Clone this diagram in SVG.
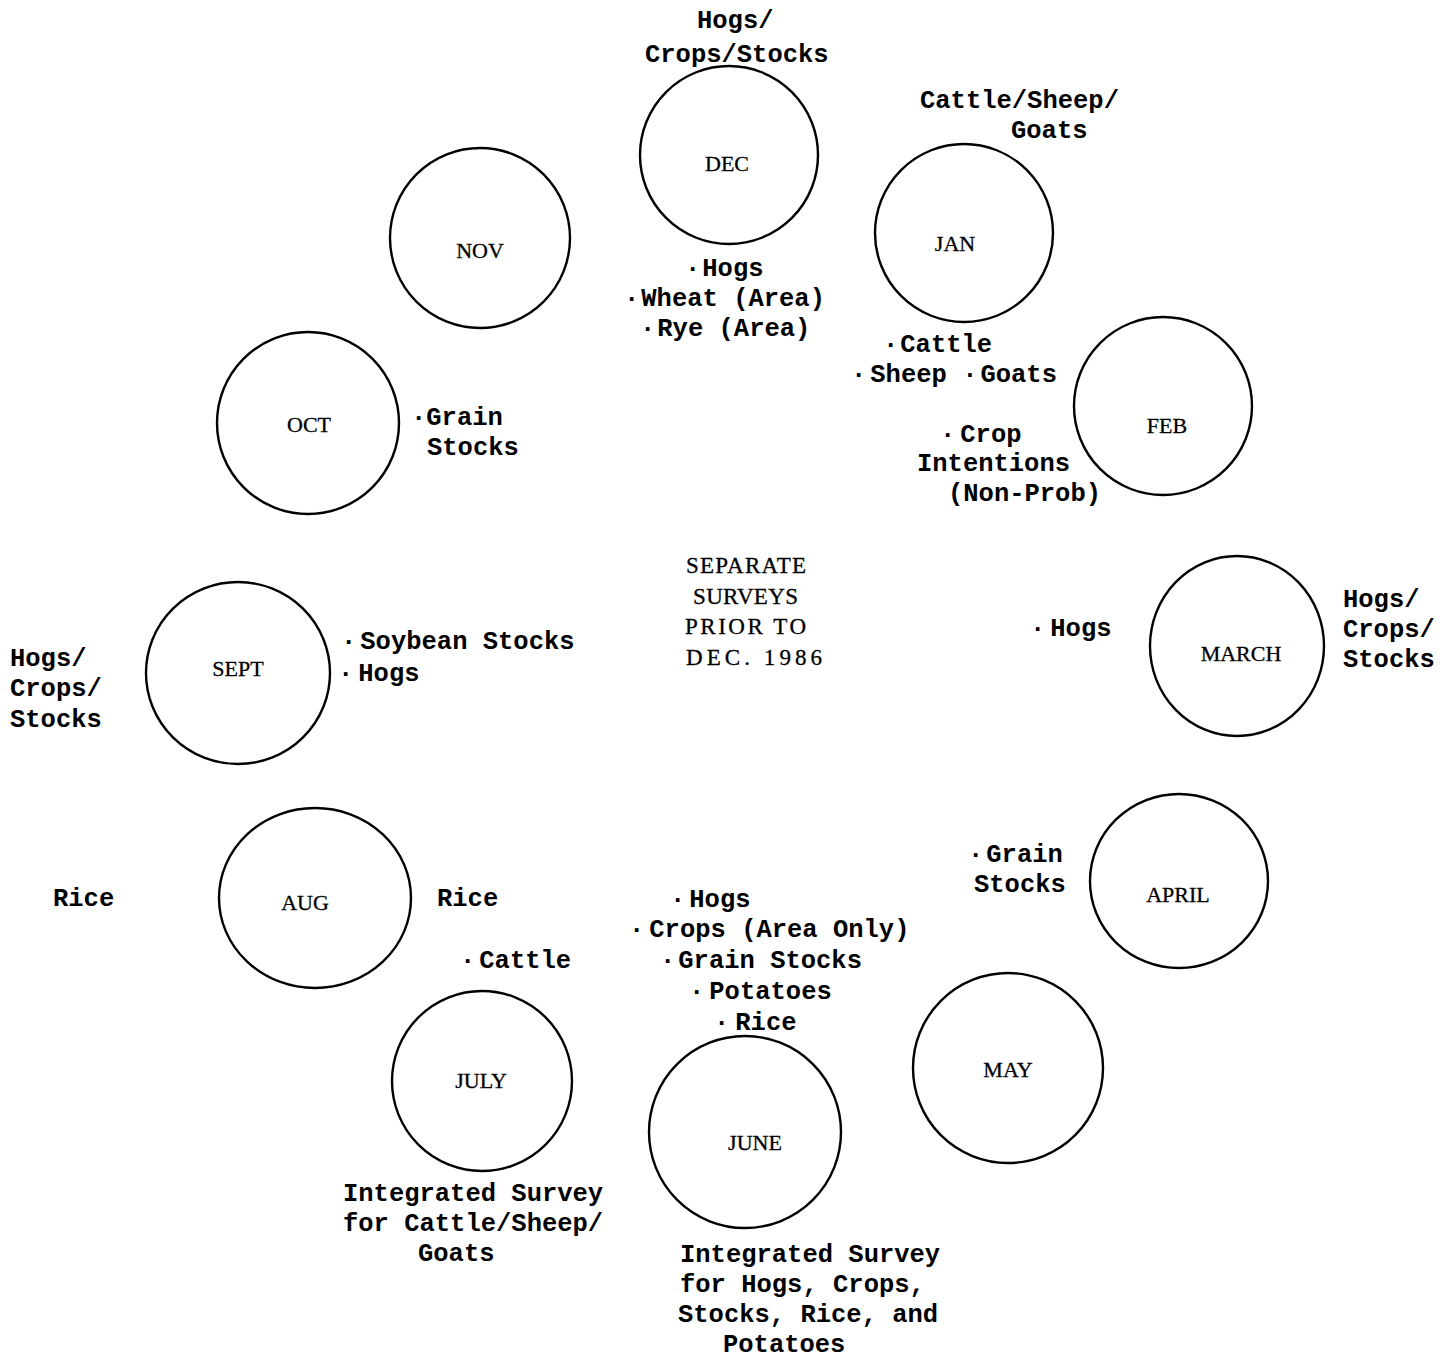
<svg xmlns="http://www.w3.org/2000/svg" width="1453" height="1358" viewBox="0 0 1453 1358">
<style>
.c{fill:none;stroke:#000;stroke-width:2.4}
.t{font-family:"Liberation Mono","DejaVu Sans Mono",monospace;font-size:25.5px;font-weight:bold;fill:#000}
.m{font-family:"Liberation Serif","DejaVu Serif",serif;font-size:22px;fill:#000;text-anchor:middle;stroke:#000;stroke-width:0.3}
.s{font-family:"Liberation Serif","DejaVu Serif",serif;font-size:23px;fill:#000;stroke:#000;stroke-width:0.3}
</style>
<rect width="1453" height="1358" fill="#fff"/>
<g id="connectors"/>
<g id="dec">
<circle class="c" cx="729" cy="155" r="89"/>
<text class="m" x="727" y="171">DEC</text>
<text class="t" x="697" y="28">Hogs/</text>
<text class="t" x="645" y="62">Crops/Stocks</text>
<text class="t" x="685" y="276">·<tspan dx="2">Hogs</tspan></text>
<text class="t" x="624" y="306">·<tspan dx="2">Wheat (Area)</tspan></text>
<text class="t" x="640" y="336">·<tspan dx="2">Rye (Area)</tspan></text>
</g>
<g id="jan">
<circle class="c" cx="964" cy="233" r="89"/>
<text class="m" x="955" y="251">JAN</text>
<text class="t" x="920" y="108">Cattle/Sheep/</text>
<text class="t" x="1011" y="138">Goats</text>
<text class="t" x="883" y="352">·<tspan dx="2">Cattle</tspan></text>
<text class="t" x="851" y="382">·<tspan dx="4">Sheep</tspan><tspan dx="0"> ·</tspan><tspan dx="3">Goats</tspan></text>
</g>
<g id="feb">
<circle class="c" cx="1163" cy="406" r="89"/>
<text class="m" x="1167" y="433">FEB</text>
<text class="t" x="940" y="442">·<tspan dx="5">Crop</tspan></text>
<text class="t" x="917" y="471">Intentions</text>
<text class="t" x="948" y="501">(Non-Prob)</text>
</g>
<g id="nov">
<circle class="c" cx="480" cy="238" r="90"/>
<text class="m" x="480" y="258">NOV</text>
</g>
<g id="oct">
<circle class="c" cx="308" cy="423" r="91"/>
<text class="m" x="309" y="432">OCT</text>
<text class="t" x="411" y="425">·Grain</text>
<text class="t" x="427" y="455">Stocks</text>
</g>
<g id="center">
<text class="s" x="686" y="573" textLength="120" lengthAdjust="spacing">SEPARATE</text>
<text class="s" x="693" y="604" textLength="105" lengthAdjust="spacing">SURVEYS</text>
<text class="s" x="685" y="634" textLength="121" lengthAdjust="spacing">PRIOR TO</text>
<text class="s" x="686" y="665" textLength="136" lengthAdjust="spacing">DEC. 1986</text>
</g>
<g id="sept">
<ellipse class="c" cx="238" cy="673" rx="92" ry="91"/>
<text class="m" x="238" y="676">SEPT</text>
<text class="t" x="10" y="666">Hogs/</text>
<text class="t" x="10" y="696">Crops/</text>
<text class="t" x="10" y="727">Stocks</text>
<text class="t" x="341" y="649">·<tspan dx="4">Soybean Stocks</tspan></text>
<text class="t" x="338" y="681">·<tspan dx="5">Hogs</tspan></text>
</g>
<g id="march">
<ellipse class="c" cx="1237" cy="646" rx="87" ry="90"/>
<text class="m" x="1241" y="661">MARCH</text>
<text class="t" x="1030" y="636">·<tspan dx="5">Hogs</tspan></text>
<text class="t" x="1343" y="607">Hogs/</text>
<text class="t" x="1343" y="637">Crops/</text>
<text class="t" x="1343" y="667">Stocks</text>
</g>
<g id="aug">
<ellipse class="c" cx="315" cy="898" rx="96" ry="90"/>
<text class="m" x="305" y="910">AUG</text>
<text class="t" x="53" y="906">Rice</text>
<text class="t" x="437" y="906">Rice</text>
</g>
<g id="april">
<ellipse class="c" cx="1179" cy="881" rx="89" ry="87"/>
<text class="m" x="1178" y="902">APRIL</text>
<text class="t" x="968" y="862">·<tspan dx="3">Grain</tspan></text>
<text class="t" x="974" y="892">Stocks</text>
</g>
<g id="july">
<circle class="c" cx="482" cy="1081" r="90"/>
<text class="m" x="481" y="1088">JULY</text>
<text class="t" x="460" y="968">·<tspan dx="4">Cattle</tspan></text>
<text class="t" x="343" y="1201">Integrated Survey</text>
<text class="t" x="343" y="1231">for Cattle/Sheep/</text>
<text class="t" x="418" y="1261">Goats</text>
</g>
<g id="may">
<ellipse class="c" cx="1008" cy="1068" rx="95" ry="95"/>
<text class="m" x="1008" y="1077">MAY</text>
</g>
<g id="june">
<ellipse class="c" cx="745" cy="1132" rx="96" ry="96"/>
<text class="m" x="755" y="1150">JUNE</text>
<text class="t" x="670" y="907">·<tspan dx="4">Hogs</tspan></text>
<text class="t" x="629" y="937">·<tspan dx="5">Crops (Area Only)</tspan></text>
<text class="t" x="660" y="968">·<tspan dx="3">Grain Stocks</tspan></text>
<text class="t" x="689" y="999">·<tspan dx="5">Potatoes</tspan></text>
<text class="t" x="714" y="1030">·<tspan dx="6">Rice</tspan></text>
<text class="t" x="680" y="1262">Integrated Survey</text>
<text class="t" x="680" y="1292">for Hogs, Crops,</text>
<text class="t" x="678" y="1322">Stocks, Rice, and</text>
<text class="t" x="723" y="1352">Potatoes</text>
</g>
</svg>
